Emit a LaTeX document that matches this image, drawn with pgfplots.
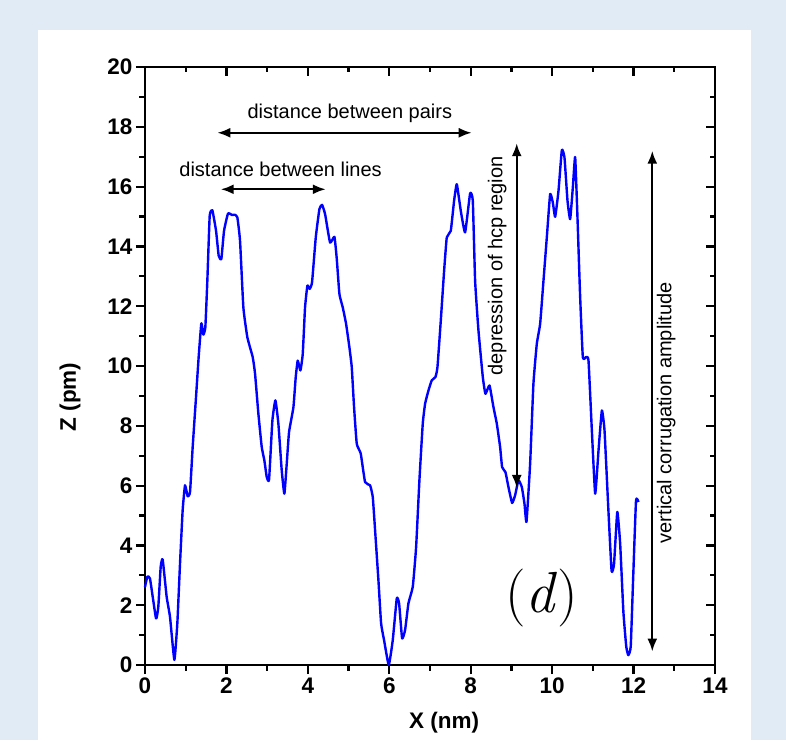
\documentclass[border=0pt]{standalone}
\usepackage{pgfplots}
\pgfplotsset{compat=1.18}
\usepackage{fontspec}
\setmainfont{Liberation Sans}
\newfontfamily\lmfont{Latin Modern Roman}
\usetikzlibrary{arrows.meta}
\definecolor{bgblue}{RGB}{225,235,246}

\pgfplotstableread{
x      z
0.000  2.61
0.057  2.95
0.123  2.89
0.270  1.56
0.327  1.95
0.385  3.28
0.434  3.53
0.532  2.28
0.614  1.61
0.721  0.17
0.794  1.39
0.860  3.39
0.925  5.18
0.983  6.01
1.048  5.64
1.106  5.79
1.171  7.29
1.253  8.96
1.318  10.30
1.384  11.43
1.433  11.05
1.482  11.30
1.531  12.85
1.589  15.02
1.654  15.21
1.745  14.52
1.810  13.69
1.875  13.58
1.941  14.52
2.039  15.10
2.138  15.05
2.203  15.06
2.268  14.97
2.334  14.19
2.416  11.96
2.514  10.96
2.645  10.30
2.703  9.74
2.785  8.40
2.867  7.29
2.932  6.84
2.990  6.29
3.047  6.20
3.129  8.18
3.203  8.85
3.276  8.07
3.358  6.51
3.423  5.73
3.481  6.73
3.538  7.79
3.645  8.62
3.702  9.63
3.751  10.18
3.817  9.85
3.874  10.40
3.931  11.96
3.989  12.69
4.046  12.58
4.103  12.80
4.194  14.30
4.284  15.25
4.349  15.39
4.423  15.08
4.545  14.13
4.652  14.32
4.709  13.60
4.775  12.41
4.857  11.96
4.939  11.41
5.020  10.63
5.078  9.96
5.135  8.62
5.201  7.40
5.299  7.07
5.405  6.12
5.528  6.01
5.594  5.62
5.651  4.51
5.733  2.84
5.799  1.39
5.872  0.83
5.987  0.00
6.085  0.83
6.184  2.23
6.241  2.06
6.315  0.89
6.388  1.17
6.470  2.06
6.577  2.62
6.659  3.95
6.740  6.18
6.822  8.07
6.880  8.74
6.962  9.18
7.043  9.52
7.133  9.63
7.183  9.96
7.265  11.52
7.347  13.19
7.412  14.30
7.510  14.52
7.592  15.53
7.658  16.08
7.756  15.19
7.862  14.47
7.985  15.77
8.051  15.53
8.108  12.85
8.190  11.19
8.297  9.63
8.362  9.07
8.461  9.35
8.559  8.62
8.641  8.07
8.722  7.29
8.771  6.62
8.853  6.45
8.927  5.95
9.017  5.42
9.091  5.68
9.173  6.18
9.255  5.95
9.320  5.40
9.370  4.79
9.459  6.73
9.540  9.40
9.623  10.74
9.705  11.41
9.787  12.85
9.869  14.30
9.951  15.75
10.016 15.47
10.074 14.99
10.156 15.86
10.238 17.22
10.303 16.97
10.377 15.53
10.442 14.91
10.508 15.97
10.565 16.99
10.622 14.97
10.688 12.30
10.754 10.29
10.835 10.30
10.893 10.18
10.975 7.85
11.057 5.73
11.139 7.18
11.221 8.51
11.286 7.85
11.380 5.22
11.460 3.15
11.520 3.38
11.600 5.12
11.670 4.07
11.750 1.77
11.820 0.62
11.870 0.33
11.930 0.62
11.990 2.92
12.060 5.50
12.120 5.45
}\profile

\begin{document}
\begin{tikzpicture}[x=1pt,y=1pt]
% page background and white panel
\fill[bgblue] (0,0) rectangle (786,740);
\fill[white] (38,0) rectangle (751,710);

\pgfplotsset{frame/.style={
  scale only axis, width=570pt, height=598pt,
  at={(145pt,75pt)}, anchor=south west,
  xmin=0, xmax=14, ymin=0, ymax=20,
  xtick={0,2,...,14}, ytick={0,2,...,20},
  minor x tick num=1, minor y tick num=1,
  major tick length=9pt, minor tick length=5.5pt,
  axis line style={line width=2.2pt},
  tick style={line width=2.2pt, black},
}}

% mirrored ticks (top and right, pointing in)
\begin{axis}[frame, xtick pos=right, ytick pos=right, tick align=inside,
  xticklabels={}, yticklabels={}]
\end{axis}

\begin{axis}[frame, xtick pos=left, ytick pos=left, tick align=outside,
  clip=false,
  /pgf/number format/assume math mode=true,
  ticklabel style={font=\bfseries\fontsize{22.5}{26}\selectfont},
  ]
  \addplot[blue, no markers, line width=2.4pt, line join=round,
    smooth, tension=0.25] table[x=x, y=z] {\profile};

  \node[font=\bfseries\fontsize{22.5}{26}\selectfont]
    at (axis description cs:0.5246,-0.097) {X (nm)};
  \node[font=\bfseries\fontsize{22.5}{26}\selectfont, rotate=90]
    at (axis description cs:-0.1316,0.448) {Z (pm)};

  % annotations
  \tikzset{dbl/.style={line width=2.2pt,
    {Latex[length=13pt,width=10pt]}-{Latex[length=13pt,width=10pt]}}}
  \draw[dbl] (axis cs:1.776,17.80) -- (axis cs:8.025,17.80);
  \node[anchor=base, font=\fontsize{20}{24}\selectfont]
    at (axis cs:5.03,18.29) {distance between pairs};
  \draw[dbl] (axis cs:1.86,15.91) -- (axis cs:4.44,15.91);
  \node[anchor=base, font=\fontsize{20}{24}\selectfont]
    at (axis cs:3.33,16.35) {distance between lines};
  \draw[dbl] (axis cs:9.13,17.45) -- (axis cs:9.13,5.92);
  \node[anchor=base, rotate=90, font=\fontsize{20}{24}\selectfont]
    at (axis cs:8.78,13.35) {depression of hcp region};
  \draw[dbl] (axis cs:12.46,17.20) -- (axis cs:12.46,0.45);
  \node[anchor=base, rotate=90, font=\fontsize{20}{24}\selectfont]
    at (axis cs:12.93,8.44) {vertical corrugation amplitude};
  \node[anchor=base] at (axis cs:9.74,1.74)
    {\lmfont\fontsize{58}{60}\selectfont(\textit{d})};
\end{axis}
\end{tikzpicture}
\end{document}
